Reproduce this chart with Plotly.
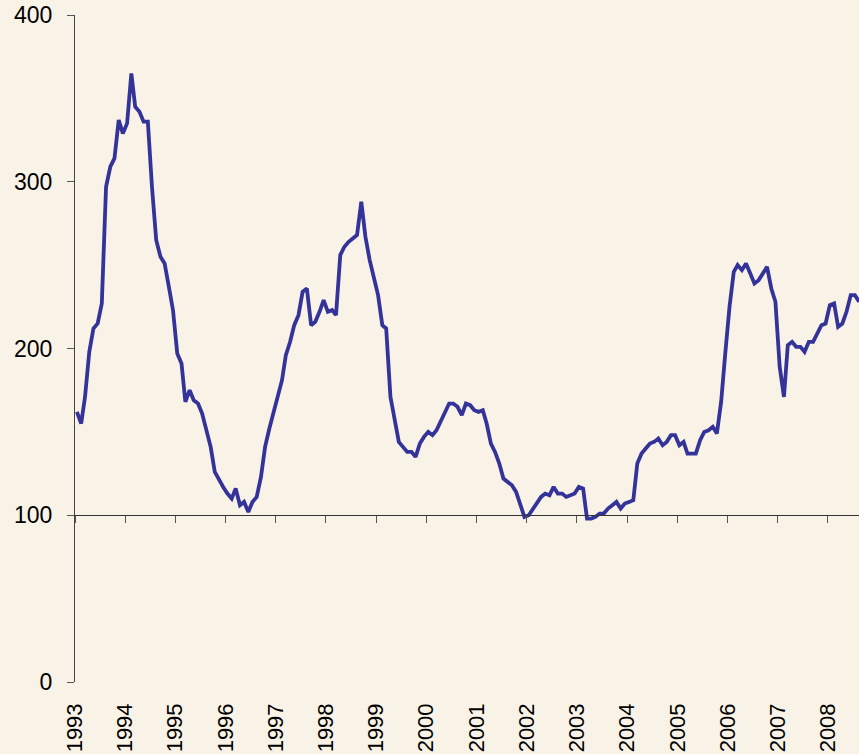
import plotly.graph_objects as go

# Monthly index values, Jan 1993 .. Aug 2008
values = [
    162, 155, 171, 198, 212, 215, 227, 297, 309, 314,
    337, 329, 335, 365, 345, 342, 336, 336, 297, 265,
    255, 251, 237, 223, 197, 191, 168, 175, 169, 167,
    161, 151, 141, 126, 121, 117, 113, 110, 116, 106,
    108, 102, 108, 111, 123, 141, 152, 162, 171, 181,
    196, 204, 214, 220, 234, 236, 214, 216, 222, 229,
    222, 223, 220, 256, 261, 264, 266, 268, 288, 267,
    253, 242, 232, 214, 212, 171, 157, 144, 141, 138,
    138, 135, 143, 147, 150, 148, 151, 156, 162, 167,
    167, 165, 160, 167, 166, 163, 162, 163, 155, 143,
    138, 131, 122, 120, 118, 114, 107, 99, 100, 104,
    108, 111, 113, 112, 117, 113, 113, 111, 112, 113,
    117, 116, 98, 98, 99, 101, 101, 104, 106, 108,
    104, 107, 108, 109, 131, 137, 140, 143, 144, 146,
    142, 144, 148, 148, 142, 144, 137, 137, 137, 145,
    150, 151, 153, 149, 168, 197, 225, 246, 250, 247,
    251, 245, 239, 241, 245, 249, 236, 228, 189, 171,
    202, 204, 201, 201, 198, 204, 204, 209, 214, 215,
    226, 227, 213, 215, 222, 232, 232, 228,
]
start_year = 1993
dates = [f"{start_year + i // 12}-{i % 12 + 1:02d}-15" for i in range(len(values))]

year_ticks = [str(y) for y in range(1993, 2009)]
year_tickvals = [f"{y}-01-01" for y in year_ticks]
y_ticks = [0, 100, 200, 300, 400]

x_range = ["1993-01-01", "2008-08-14"]
FONT = "Liberation Sans, Arial, sans-serif"
BG = "#F9F3E7"
LINE = "#333399"
AX = "#333333"

fig = go.Figure()
fig.add_trace(go.Scatter(x=dates, y=values, mode="lines",
                         line=dict(color=LINE, width=3.8),
                         showlegend=False, hoverinfo="x+y"))
# invisible trace to materialise the crossing axis at y=100
fig.add_trace(go.Scatter(x=[dates[0]], y=[None], xaxis="x2", yaxis="y",
                         mode="lines", showlegend=False, hoverinfo="skip"))

fig.update_layout(
    width=859, height=754,
    margin=dict(l=75, r=0, t=15, b=72, autoexpand=False),
    paper_bgcolor=BG, plot_bgcolor=BG,
    font=dict(family=FONT, color="#000000"),
    xaxis=dict(
        type="date", range=x_range, automargin=False,
        tickmode="array", tickvals=year_tickvals, ticktext=year_ticks,
        tickangle=-90, tickfont=dict(size=22, family=FONT, color="#000"),
        showline=False, ticks="", showgrid=False, zeroline=False,
        ticklabelstandoff=16,
    ),
    xaxis2=dict(
        type="date", range=x_range, overlaying="x", anchor="free",
        position=100 / 400, side="bottom", automargin=False,
        tickmode="array", tickvals=year_tickvals, showticklabels=False,
        showline=True, linecolor=AX, linewidth=1.2,
        ticks="outside", ticklen=7, tickwidth=1.2, tickcolor="#555555",
        showgrid=False, zeroline=False,
    ),
    yaxis=dict(
        range=[0, 400], tickmode="array", tickvals=y_ticks, automargin=False,
        tickfont=dict(size=23, family=FONT, color="#000"),
        showline=True, linecolor="#444444", linewidth=1.2,
        ticks="outside", ticklen=7, tickwidth=1.2, tickcolor="#555555",
        showgrid=False, zeroline=False, ticklabelstandoff=10,
    ),
)

page_js = (
    "document.body.style.margin='0';"
    "document.body.style.padding='0';"
    "document.body.style.background='" + BG + "';"
    "document.documentElement.style.background='" + BG + "';"
)
fig.write_html("out.html", post_script=page_js,
               config={"displayModeBar": False})
